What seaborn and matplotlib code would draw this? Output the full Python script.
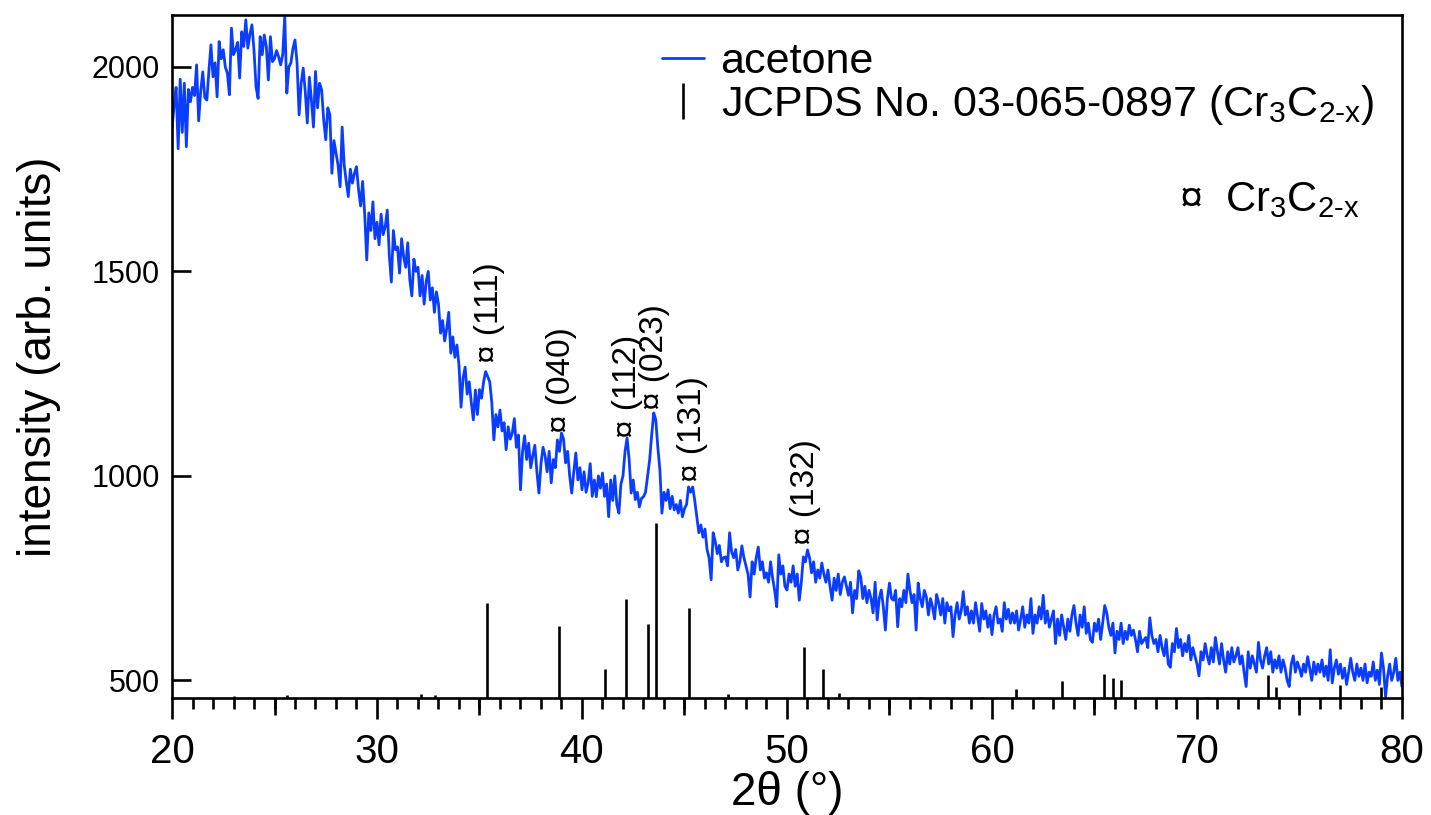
import numpy as np
import pandas as pd
import matplotlib
matplotlib.use("Agg")
import matplotlib.pyplot as plt
from matplotlib.lines import Line2D
from matplotlib.ticker import MultipleLocator
import seaborn as sns

# ---------------- data ----------------
two_theta = np.linspace(20, 80, 601)
intensity = [
    1850, 1905, 1950, 1800, 1970, 1840, 1960, 1805, 1945, 1915,   # 20
    1950, 1930, 2005, 1868, 1940, 1988, 1925, 1919, 1990, 2054,   # 21
    1976, 2010, 1927, 2062, 2020, 2042, 2000, 1985, 1932, 2095,   # 22
    2030, 2042, 2060, 1973, 2086, 2050, 2115, 2046, 2080, 2103,   # 23
    2040, 1951, 1923, 2074, 2030, 2078, 2050, 1968, 2074, 2013,   # 24
    2020, 2040, 2025, 2005, 2030, 2125, 1936, 2000, 2010, 2045,   # 25
    2066, 2010, 1883, 1960, 1997, 1940, 1863, 1975, 1920, 1853,   # 26
    1989, 1900, 1960, 1944, 1870, 1822, 1900, 1883, 1740, 1820,   # 27
    1790, 1760, 1707, 1853, 1760, 1720, 1683, 1750, 1716, 1740,   # 28
    1756, 1700, 1660, 1720, 1640, 1528, 1643, 1600, 1670, 1580,   # 29
    1620, 1565, 1640, 1590, 1609, 1650, 1540, 1474, 1600, 1553,   # 30
    1560, 1496, 1580, 1536, 1510, 1570, 1480, 1440, 1530, 1500,   # 31
    1510, 1440, 1490, 1420, 1475, 1500, 1430, 1460, 1400, 1450,   # 32
    1420, 1349, 1380, 1330, 1360, 1400, 1300, 1340, 1290, 1320,   # 33
    1270, 1168, 1240, 1266, 1200, 1230, 1180, 1137, 1210, 1150,   # 34
    1211, 1190, 1230, 1255, 1243, 1230, 1180, 1088, 1150, 1120,   # 35
    1161, 1110, 1130, 1064, 1120, 1090, 1105, 1140, 1070, 1100,   # 36
    966, 1060, 1098, 1040, 1080, 1020, 1049, 1075, 1010, 958,     # 37
    1030, 1070, 1049, 1010, 1060, 983, 1040, 1020, 1088, 1060,    # 38
    1105, 1090, 1032, 1060, 1000, 958, 1010, 1056, 990, 1020,     # 39
    966, 1010, 960, 983, 1030, 950, 990, 949, 1000, 970,          # 40
    1007, 950, 980, 900, 990, 940, 1000, 930, 909, 980,           # 41
    1000, 1060, 1093, 1040, 958, 990, 942, 960, 924, 945,         # 42
    949, 960, 1000, 1039, 1100, 1154, 1137, 1070, 1015, 909,      # 43
    960, 940, 966, 920, 950, 917, 930, 909, 940, 900,             # 44
    920, 930, 973, 960, 973, 940, 900, 861, 880, 850,             # 45
    870, 820, 800, 746, 861, 840, 810, 830, 790, 800,             # 46
    802, 780, 861, 814, 800, 820, 770, 790, 829, 800,             # 47
    780, 760, 704, 790, 760, 800, 826, 770, 790, 750,             # 48
    763, 740, 790, 750, 720, 680, 807, 760, 780, 730,             # 49
    721, 760, 740, 780, 730, 760, 696, 740, 802, 790,             # 50
    819, 800, 763, 790, 740, 770, 750, 787, 760, 740,             # 51
    770, 730, 696, 750, 720, 760, 710, 740, 753, 730,             # 52
    708, 740, 665, 720, 700, 768, 753, 700, 730, 690,             # 53
    720, 700, 665, 740, 648, 700, 721, 680, 623, 700,             # 54
    738, 700, 696, 720, 631, 700, 680, 720, 690, 760,             # 55
    720, 690, 710, 623, 738, 700, 680, 720, 704, 660,             # 56
    700, 680, 650, 710, 690, 660, 700, 640, 690, 670,             # 57
    680, 607, 660, 690, 650, 670, 717, 660, 680, 640,             # 58
    670, 640, 690, 655, 620, 688, 650, 670, 630, 660,             # 59
    612, 660, 680, 640, 650, 620, 690, 650, 674, 640,             # 60
    665, 640, 670, 623, 650, 680, 630, 660, 640, 700,             # 61
    615, 660, 640, 680, 650, 708, 640, 670, 630, 650,             # 62
    670, 590, 650, 610, 660, 630, 600, 650, 620, 660,             # 63
    683, 640, 610, 660, 630, 680, 615, 640, 600, 593,             # 64
    640, 620, 650, 600, 640, 683, 665, 630, 610, 640,             # 65
    567, 620, 600, 640, 590, 620, 600, 635, 610, 623,             # 66
    600, 570, 620, 590, 598, 605, 580, 653, 610, 590,             # 67
    600, 570, 610, 580, 560, 600, 540, 532, 590, 570,             # 68
    627, 580, 600, 560, 590, 570, 610, 550, 580, 560,             # 69
    540, 511, 570, 550, 590, 560, 540, 580, 545, 605,             # 70
    570, 540, 590, 550, 520, 570, 540, 580, 545, 560,             # 71
    580, 540, 560, 520, 485, 570, 530, 560, 540, 520,             # 72
    593, 550, 530, 560, 580, 540, 570, 520, 550, 530,             # 73
    560, 520, 550, 530, 500, 485, 540, 560, 520, 545,             # 74
    530, 510, 540, 520, 558, 530, 500, 545, 515, 540,             # 75
    520, 550, 510, 535, 500, 575, 494, 530, 550, 515,             # 76
    540, 505, 530, 490, 520, 554, 520, 500, 540, 510,             # 77
    530, 500, 540, 494, 520, 510, 545, 500, 525, 490,             # 78
    567, 530, 460, 510, 540, 500, 520, 554, 500, 520,             # 79
    485,                                                          # 80
]

stick_pos = [23.0, 25.6, 32.15, 32.85, 35.37, 38.9, 41.1, 42.15, 43.2, 43.62,
             45.2, 47.1, 50.85, 51.75, 52.55, 56.5, 59.5, 61.15, 63.42, 65.45,
             65.9, 66.3, 70.5, 73.45, 73.85, 77.0, 79.0]
stick_top = [461, 464, 466, 464, 688, 634, 529, 698, 639, 886,
             676, 466, 581, 529, 468, 460, 460, 478, 499, 516,
             505, 502, 460, 512, 485, 488, 484]

peak_labels = ["(111)", "(040)", "(112)", "(023)", "(131)", "(132)"]
peak_x = [35.5, 39.0, 42.2, 43.55, 45.4, 50.9]
peak_y = [1275, 1105, 1092, 1162, 985, 830]

x_ticks = [20, 30, 40, 50, 60, 70, 80]
y_ticks = [500, 1000, 1500, 2000]

BLUE = "#0a3dff"
Y_MIN, Y_MAX = 457, 2127
LW = 1.9

# ---------------- style ----------------
sns.set_theme(style="ticks")
plt.rcParams["font.family"] = ["Liberation Sans", "DejaVu Sans"]
plt.rcParams["mathtext.fontset"] = "custom"
plt.rcParams["mathtext.rm"] = "Liberation Sans"
plt.rcParams["mathtext.it"] = "Liberation Sans"
for k in ["text.color", "axes.labelcolor", "xtick.color", "ytick.color",
          "axes.edgecolor"]:
    plt.rcParams[k] = "black"
plt.rcParams["axes.linewidth"] = LW

fig = plt.figure(figsize=(14.31, 8.15), dpi=100)
ax = fig.add_axes([0.1202, 0.1436, 0.8595, 0.8380])

df = pd.DataFrame({"two_theta": two_theta, "intensity": intensity})
sns.lineplot(data=df, x="two_theta", y="intensity", ax=ax, color=BLUE,
             lw=2.0, legend=False, estimator=None)

ax.vlines(stick_pos, Y_MIN, stick_top, color="black", lw=LW, zorder=3)

for lab, px, py in zip(peak_labels, peak_x, peak_y):
    ax.text(px, py, "\u00a4 " + lab, rotation=90, ha="center", va="bottom",
            fontsize=24, color="black")

sub = "C$_\\mathregular{2\\text{-}x}$"
ax.text(69.1, 1675, "\u00a4  Cr$_\\mathregular{3}$" + sub,
        fontsize=30, va="center", ha="left", color="black")

handles = [Line2D([], [], color=BLUE, lw=2.0),
           Line2D([], [], color="black", marker="|", ls="none",
                  markersize=26, markeredgewidth=LW)]
labels = ["acetone",
          "JCPDS No. 03-065-0897 (Cr$_\\mathregular{3}$" + sub + ")"]
ax.legend(handles, labels, loc="upper left", bbox_to_anchor=(0.398, 0.960),
          frameon=False, fontsize=31, handlelength=0.98, handletextpad=0.39,
          borderaxespad=0, borderpad=0, labelspacing=0.02)

ax.set_xlim(20, 80)
ax.set_ylim(Y_MIN, Y_MAX)
ax.set_xticks(x_ticks)
ax.xaxis.set_minor_locator(MultipleLocator(1))
ax.set_yticks(y_ticks)
ax.tick_params(axis="x", which="major", direction="out", length=15, width=LW,
               labelsize=29, pad=10)
ax.tick_params(axis="x", which="minor", direction="out", length=8, width=LW)
ax.tick_params(axis="y", which="major", direction="in", length=14, width=LW,
               labelsize=22, pad=9)

sec = ax.secondary_xaxis("bottom")
sec.set_xticks([25, 35, 45, 55, 65, 75])
sec.set_xticklabels([])
sec.tick_params(axis="x", direction="out", length=12, width=LW)
sec.spines["bottom"].set_visible(False)

for s in ax.spines.values():
    s.set_visible(True)
    s.set_color("black")
    s.set_linewidth(LW)

ax.set_xlabel("2\u03b8 (\u00b0)", fontsize=33, labelpad=0)
ax.set_ylabel("intensity (arb. units)", fontsize=33, labelpad=22)

fig.savefig("out.png", dpi=100)
